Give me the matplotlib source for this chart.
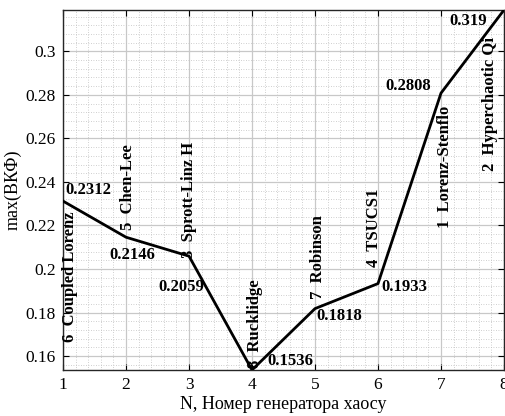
import matplotlib
matplotlib.use("Agg")
import matplotlib.pyplot as plt
from matplotlib.ticker import MultipleLocator, FuncFormatter, AutoMinorLocator

N = [1, 2, 3, 4, 5, 6, 7, 8]
values = [0.2312, 0.2146, 0.2059, 0.1536, 0.1818, 0.1933, 0.2808, 0.319]
value_labels = ["0.2312", "0.2146", "0.2059", "0.1536", "0.1818", "0.1933", "0.2808", "0.319"]
gen_names = ["6  Coupled Lorenz", "5  Chen-Lee", "3  Sprott-Linz H", "8  Rucklidge",
             "7  Robinson", "4  TSUCS1", "1  Lorenz-Stenflo", "2  Hyperchaotic Qi"]
# label anchor positions (data coords)
name_pos = [(1.11, 0.1664), (2.03, 0.2177), (3.0, 0.205), (4.05, 0.1545),
            (5.05, 0.186), (5.94, 0.201), (7.06, 0.219), (7.78, 0.245)]
val_pos = [(1.03, 0.2365), (1.73, 0.2064), (2.52, 0.1918), (4.25, 0.1577),
           (5.02, 0.1786), (6.06, 0.1918), (6.11, 0.2842), (7.13, 0.314)]

plt.rcParams['font.family'] = ['Liberation Serif', 'DejaVu Serif']

fig = plt.figure(figsize=(5.05, 4.16), dpi=100)
ax = fig.add_axes([0.1248, 0.1106, 0.998 - 0.1248, 0.976 - 0.1106])

ax.plot(N, values, color='black', lw=2.0, zorder=3)

for (x, y), s in zip(name_pos, gen_names):
    ax.text(x, y, s, rotation=90, ha='center', va='bottom', fontsize=12,
            fontweight='bold', zorder=4)
for (x, y), s in zip(val_pos, value_labels):
    ax.text(x, y, s, ha='left', va='center', fontsize=12, fontweight='bold', zorder=4)

ax.set_xlim(1, 8)
ax.set_ylim(min(values), max(values))
ax.xaxis.set_major_locator(MultipleLocator(1))
ax.yaxis.set_major_locator(MultipleLocator(0.02))
ax.xaxis.set_minor_locator(AutoMinorLocator(5))
ax.yaxis.set_minor_locator(AutoMinorLocator(5))
ax.yaxis.set_major_formatter(FuncFormatter(lambda v, p: f"{v:g}"))

ax.grid(which='major', color='#c8c8c8', lw=0.9, ls='-')
ax.grid(which='minor', color='#c0c0c0', lw=0.6, ls=(0, (1, 2)))
ax.set_axisbelow(True)
ax.tick_params(which='both', direction='in', labelsize=12.5, top=True, right=True)
ax.tick_params(which='minor', length=0)
ax.tick_params(which='major', length=4, pad=5)
for sp in ax.spines.values():
    sp.set_linewidth(1.0)
    sp.set_color('#262626')

ax.set_xlabel("N, Номер генератора хаосу", fontsize=13, labelpad=2)
ax.set_ylabel("max(ВКФ)", fontsize=13, labelpad=3)

fig.savefig("out.png", dpi=100)
